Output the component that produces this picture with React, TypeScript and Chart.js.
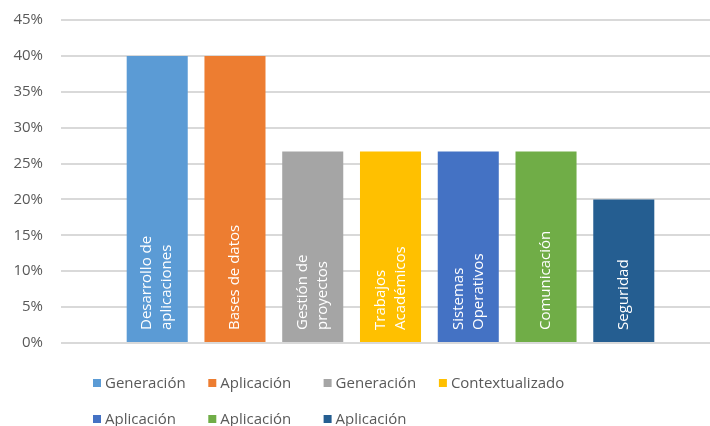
import React, { useEffect, useRef } from "react";
import { Chart, registerables } from "chart.js";

Chart.register(...registerables);

const categories = [""];
const seriesNames = ["Generación", "Aplicación", "Generación", "Contextualizado", "Aplicación", "Aplicación", "Aplicación"];
const barLabels = [
  ["Desarrollo de", "aplicaciones"],
  ["Bases de datos"],
  ["Gestión de", "proyectos"],
  ["Trabajos", "Académicos"],
  ["Sistemas", "Operativos"],
  ["Comunicación"],
  ["Seguridad"],
];
const seriesValues = [0.4, 0.4, 0.2667, 0.2667, 0.2667, 0.2667, 0.2];
const seriesColors = ["#5B9BD5", "#ED7D31", "#A5A5A5", "#FFC000", "#4472C4", "#70AD47", "#255E91"];
const yTicks = [0, 0.05, 0.1, 0.15, 0.2, 0.25, 0.3, 0.35, 0.4, 0.45];

const FONT = "'Open Sans', Lato, sans-serif";

const barLabelPlugin = {
  id: "barLabels",
  afterDatasetsDraw(chart: any) {
    const ctx = chart.ctx;
    ctx.save();
    ctx.fillStyle = "#FFFFFF";
    ctx.font = `15px ${FONT}`;
    ctx.textAlign = "left";
    ctx.textBaseline = "middle";
    chart.data.datasets.forEach((ds: any, i: number) => {
      const el = chart.getDatasetMeta(i).data[0] as any;
      if (!el) return;
      const lines = barLabels[i];
      const n = lines.length;
      const lh = 20;
      ctx.save();
      ctx.translate(el.x, el.base - 12);
      ctx.rotate(-Math.PI / 2);
      lines.forEach((ln: string, j: number) => {
        ctx.fillText(ln, 0, (j - (n - 1) / 2) * lh);
      });
      ctx.restore();
    });
    ctx.restore();
  },
};

const legendPlugin = {
  id: "gridLegend",
  afterDraw(chart: any) {
    const ctx = chart.ctx;
    const left = 93;
    const colW = 115.3;
    const rows = [383, 419];
    ctx.save();
    ctx.font = `15px ${FONT}`;
    ctx.textAlign = "left";
    ctx.textBaseline = "middle";
    chart.data.datasets.forEach((ds: any, i: number) => {
      const col = i % 4;
      const row = Math.floor(i / 4);
      const x = left + col * colW;
      const y = rows[row];
      ctx.fillStyle = ds.backgroundColor;
      ctx.fillRect(x, y - 4, 8, 8);
      ctx.fillStyle = "#595959";
      ctx.fillText(ds.label, x + 12, y + 1);
    });
    ctx.restore();
  },
};

export default function App() {
  const ref = useRef<HTMLCanvasElement>(null);
  useEffect(() => {
    document.body.style.margin = "0";
    const chart = new Chart(ref.current as HTMLCanvasElement, {
      type: "bar",
      data: {
        labels: categories,
        datasets: seriesNames.map((name, i) => ({
          label: name,
          data: [seriesValues[i]],
          backgroundColor: seriesColors[i],
          borderWidth: 0,
          categoryPercentage: 0.826,
          barPercentage: 0.785,
        })),
      },
      options: {
        animation: false,
        responsive: false,
        maintainAspectRatio: false,
        layout: { padding: { top: 20, right: 0, bottom: 83, left: 0 } },
        plugins: {
          legend: { display: false },
          tooltip: { enabled: false },
        },
        scales: {
          x: { display: false, grid: { display: false } },
          y: {
            min: 0,
            max: 0.45,
            afterFit: (axis: any) => {
              axis.width = 61;
              axis.paddingTop = 0;
              axis.paddingBottom = 0;
            },
            afterBuildTicks: (axis: any) => {
              axis.ticks = yTicks.map((v) => ({ value: v }));
            },
            ticks: {
              padding: 18,
              color: "#595959",
              font: { family: FONT, size: 15 },
              callback: (v: any) => `${Math.round(Number(v) * 100)}%`,
            },
            grid: { color: "#D9D9D9", lineWidth: 2, drawTicks: false },
            border: { display: false },
          },
        },
      },
      plugins: [barLabelPlugin, legendPlugin],
    });
    return () => chart.destroy();
  }, []);
  return (
    <div style={{ width: 710, height: 426, overflow: "hidden" }}>
      <canvas ref={ref} width={720} height={426} style={{ display: "block" }} />
    </div>
  );
}
